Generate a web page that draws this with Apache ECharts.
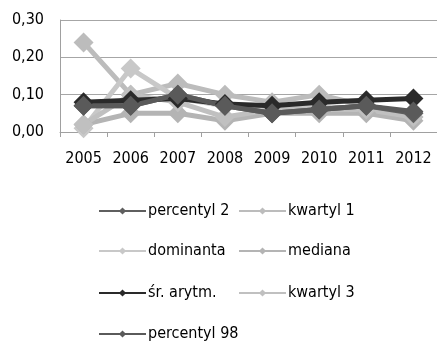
<!DOCTYPE html>
<html><head><meta charset="utf-8">
<script src="https://cdn.jsdelivr.net/npm/echarts@6/dist/echarts.min.js"></script>
<style>html,body{margin:0;padding:0;background:#fff}#c{width:437px;height:342px}</style>
</head><body><div id="c"></div>
<script>
const years = ['2005','2006','2007','2008','2009','2010','2011','2012'];
const yTicks = [0, 0.1, 0.2, 0.3];
const percentyl2 = [0.07, 0.07, 0.10, 0.07, 0.05, 0.06, 0.07, 0.05];
const kwartyl1 = [0.24, 0.10, 0.13, 0.10, 0.08, 0.10, 0.07, 0.05];
const dominanta = [0.01, 0.17, 0.09, 0.07, 0.06, 0.07, 0.06, 0.04];
const mediana = [0.02, 0.05, 0.05, 0.03, 0.05, 0.05, 0.05, 0.03];
const srArytm = [0.08, 0.085, 0.09, 0.075, 0.07, 0.08, 0.085, 0.09];
const kwartyl3 = [0.02, 0.10, 0.08, 0.04, 0.06, 0.06, 0.06, 0.04];
const percentyl98 = [0.07, 0.07, 0.10, 0.07, 0.05, 0.06, 0.07, 0.055];
const names = ['percentyl 2','kwartyl 1','dominanta','mediana','śr. arytm.','kwartyl 3','percentyl 98'];
const values = [percentyl2, kwartyl1, dominanta, mediana, srArytm, kwartyl3, percentyl98];
const colors = ['#5f5f5f','#bcbcbc','#c8c8c8','#b4b4b4','#2a2a2a','#c0c0c0','#5a5a5a'];
const font = '"DejaVu Sans Condensed","DejaVu Sans",sans-serif';
const chart = echarts.init(document.getElementById('c'));
const series = names.map((n,i)=>({
  name:n, type:'line', data:values[i], symbol:'diamond', symbolSize:20,
  lineStyle:{width:5,color:colors[i]}, itemStyle:{color:colors[i]},
  emphasis:{disabled:true}, z: (i===4||i===6||i===0)?5:3
}));
const legPos = [[98,203],[238,203],[98,243],[238,243],[98,285],[238,285],[98,326]];
const legends = names.map((n,i)=>({
  left:legPos[i][0], top:legPos[i][1], data:[n], itemWidth:47, itemHeight:9, padding:0,
  textStyle:{fontFamily:font,fontSize:16,color:'#000',padding:[0,0,0,-3]}
}));
chart.setOption({
  animation:false,
  color:colors,
  grid:{left:60,right:-5,top:20,bottom:210,containLabel:false},
  legend:legends,
  xAxis:{type:'category',data:years,boundaryGap:true,
    axisLine:{lineStyle:{color:'#a0a0a0',width:1}},
    axisTick:{show:true,length:5,alignWithLabel:false,lineStyle:{color:'#a0a0a0'}},
    axisLabel:{fontFamily:font,fontSize:16,color:'#000',margin:19,interval:0}},
  yAxis:{type:'value',min:0,max:0.3,interval:0.1,
    axisLine:{show:true,lineStyle:{color:'#a0a0a0'}},
    axisTick:{show:false},
    splitLine:{lineStyle:{color:'#a6a6a6',width:1}},
    axisLabel:{fontFamily:font,fontSize:16,color:'#000',margin:16,
      formatter:v=>v.toFixed(2).replace('.',',')}},
  series:series
});
</script></body></html>
